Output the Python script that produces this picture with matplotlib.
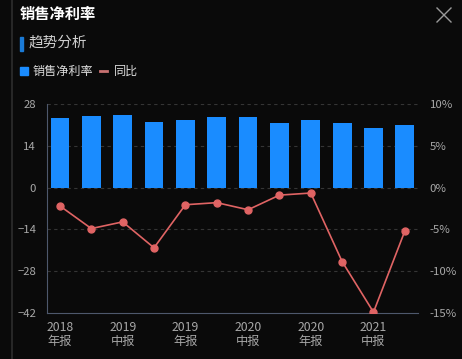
import matplotlib
matplotlib.use("Agg")
import matplotlib.pyplot as plt
from matplotlib.patches import Rectangle
from matplotlib.lines import Line2D

plt.rcParams['font.family'] = ['Noto Sans CJK SC', 'DejaVu Sans']

categories = ["2018\n年报", "2019\n一季报", "2019\n中报", "2019\n三季报", "2019\n年报", "2020\n一季报",
              "2020\n中报", "2020\n三季报", "2020\n年报", "2021\n一季报", "2021\n中报", "2021\n三季报"]
net_margin = [23.3, 24.0, 24.2, 21.9, 22.8, 23.6, 23.5, 21.8, 22.7, 21.6, 20.0, 20.8]
yoy = [-2.2, -4.9, -4.1, -7.2, -2.05, -1.8, -2.65, -0.9, -0.65, -8.85, -14.9, -5.2]
left_ticks = [-42, -28, -14, 0, 14, 28]
right_ticks = [-15, -10, -5, 0, 5, 10]

bg = "#0a0a0a"
bar_color = "#1a8cff"
line_color = "#e06464"
text_color = "#a8a8a8"

fig = plt.figure(figsize=(4.62, 3.59), dpi=100, facecolor=bg)

# left border line
fig.add_artist(Line2D([11.5/462, 11.5/462], [0, 1], color="#2e2e2e", lw=1.2))

fig.text(20/462, 1-14/359, "销售净利率", color="white", fontsize=11, fontweight="bold", va="center", ha="left")
fig.add_artist(Rectangle((20/462, 1-51/359), 2.5/462, 14/359, color="#1a7ad6", transform=fig.transFigure))
fig.text(29/462, 1-43/359, "趋势分析", color="#cfcfcf", fontsize=10.5, va="center", ha="left")

# legend
fig.add_artist(Rectangle((20/462, 1-75/359), 8/462, 8/359, color=bar_color, transform=fig.transFigure))
fig.text(33/462, 1-71/359, "销售净利率", color="#dddddd", fontsize=8.7, va="center", ha="left")
fig.add_artist(Line2D([100/462, 107/462], [1-71/359, 1-71/359], color="#c87272", lw=2))
fig.text(114/462, 1-71/359, "同比", color="#dddddd", fontsize=8.7, va="center", ha="left")

# close X
fig.add_artist(Line2D([437/462, 451/462], [1-8/359, 1-22/359], color="#9a9a9a", lw=1))
fig.add_artist(Line2D([437/462, 451/462], [1-22/359, 1-8/359], color="#9a9a9a", lw=1))

ax = fig.add_axes([46.5/462, 1-313/359, (418-46.5)/462, (313-104)/359])
ax.set_facecolor(bg)
x = list(range(len(categories)))
ax.bar(x, net_margin, width=0.6, color=bar_color, zorder=3)
ax.set_ylim(-42, 28)
ax.set_yticks(left_ticks)
ax.set_xlim(-0.43, 11.42)
ax.set_xticks(x[::2])
ax.set_xticklabels(categories[::2], linespacing=1.1)
for v in left_ticks[1:]:
    ax.axhline(v, color="#353535", lw=0.8, ls=(0, (3, 3)), zorder=1)

ax2 = ax.twinx()
ax2.plot(x, yoy, color=line_color, lw=1.2, marker="o", markersize=5, zorder=4)
ax2.set_ylim(-15, 10)
ax2.set_yticks(right_ticks)
ax2.set_yticklabels([f"{v}%" for v in right_ticks])

for a in (ax, ax2):
    for s in a.spines.values():
        s.set_visible(False)
    a.tick_params(length=0, colors=text_color, labelsize=8.2)
ax.spines['left'].set_visible(True)
ax.spines['left'].set_color("#4e586c")
ax.spines['bottom'].set_visible(True)
ax.spines['bottom'].set_color("#4e586c")
ax.tick_params(axis='y', pad=7.5)
ax.tick_params(axis='x', pad=6, labelsize=8.8)
ax2.tick_params(axis='y', pad=8.5)

fig.savefig("out.png", dpi=100, facecolor=bg)
